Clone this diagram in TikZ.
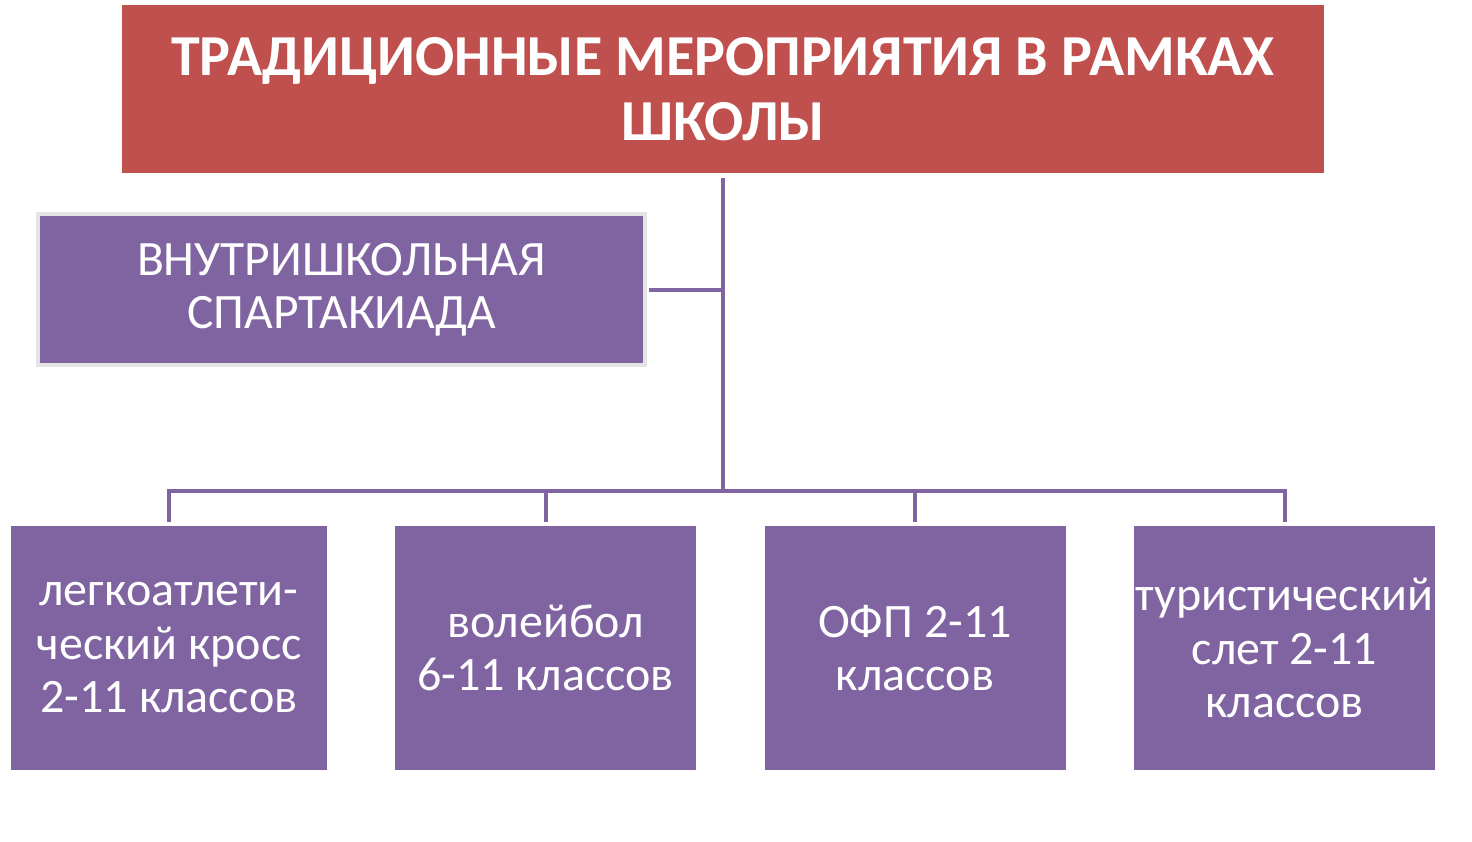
\documentclass[tikz,border=0pt]{standalone}
\usepackage{fontspec}
\setmainfont{Carlito}
\usepackage{tikz}
\usetikzlibrary{positioning}
\definecolor{boxred}{HTML}{C0504D}
\definecolor{boxpurple}{HTML}{8064A2}
\definecolor{rimgray}{HTML}{E4E4E4}
\tikzstyle{titlebox} = [rectangle, inner sep=0pt, minimum width=1202pt, minimum height=168pt, text centered, align=center, fill=boxred, text=white, font=\fontsize{58}{65}\selectfont\bfseries]
\tikzstyle{groupbox} = [rectangle, inner sep=0pt, minimum width=607pt, minimum height=151pt, text centered, align=center, draw=rimgray, line width=4pt, fill=boxpurple, text=white, font=\fontsize{49.5}{53}\selectfont]
\tikzstyle{eventbox} = [rectangle, inner sep=0pt, minimum width=301pt, minimum height=244pt, text centered, align=center, fill=boxpurple, text=white, font=\fontsize{48}{53.5}\selectfont]
\tikzstyle{link} = [draw=boxpurple, line width=4pt]

\begin{document}
\begin{tikzpicture}[x=1pt, y=-1pt]
\useasboundingbox (0,0) rectangle (1472,841);

\node (title) [titlebox] at (723,89) {ТРАДИЦИОННЫЕ МЕРОПРИЯТИЯ В РАМКАХ\\ШКОЛЫ};
\node (group) [groupbox] at (341.5,289.5) {ВНУТРИШКОЛЬНАЯ\\СПАРТАКИАДА};
\node (crosscountry) [eventbox, minimum width=316pt] at (169,648) {легкоатлети-\\ческий кросс\\2-11 классов};
\node (volleyball) [eventbox] at (545.5,648) {волейбол\\6-11 классов};
\node (fitness) [eventbox] at (915,648) {ОФП 2-11\\классов};
\node (tourist) [eventbox] at (1284.5,648) {туристический\\слет 2-11\\классов};

\coordinate (hub) at (723,491);

\draw [link] ([yshift=-5pt]title.south) -- (hub);
\draw [link] ([xshift=2pt]group.east) -- (group.east -| hub);
\draw [link] ([yshift=4pt]crosscountry.north) |- (hub) -| ([yshift=4pt]tourist.north);
\draw [link] (volleyball.north |- hub) -- ([yshift=4pt]volleyball.north);
\draw [link] (fitness.north |- hub) -- ([yshift=4pt]fitness.north);

\end{tikzpicture}
\end{document}
